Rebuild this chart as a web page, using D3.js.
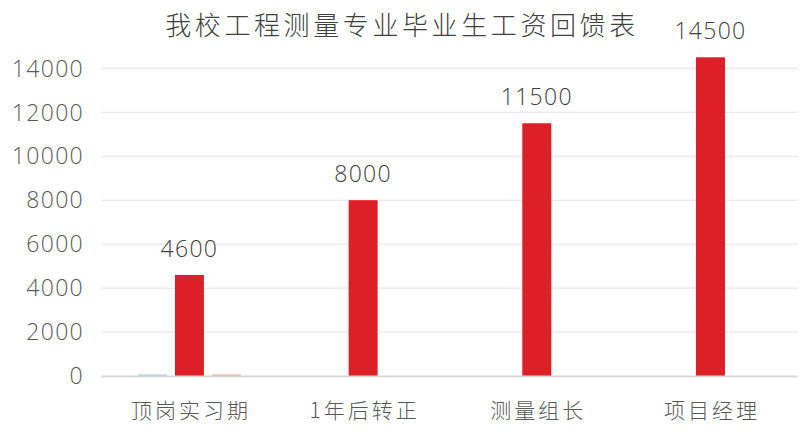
<!DOCTYPE html>
<html><head><meta charset="utf-8">
<script src="https://cdn.jsdelivr.net/npm/d3@7"></script>
<style>
html,body{margin:0;padding:0;background:#fff;}
svg{display:block;}
</style>
</head><body>
<svg id="chart" width="800" height="439"></svg>
<script>
const title = "我校工程测量专业毕业生工资回馈表";
const categories = ["顶岗实习期", "1年后转正", "测量组长", "项目经理"];
const seriesNames = ["系列1", "系列2", "系列3"];
const series1 = [30, 0, 0, 0];
const series2 = [4600, 8000, 11500, 14500];
const series3 = [30, 0, 0, 0];
const yTicks = [0, 2000, 4000, 6000, 8000, 10000, 12000, 14000];
const colors = ["#a9d1d3", "#dd2027", "#f4b183"];

const seriesValues = [series1, series2, series3];
const data = categories.map((c, i) => ({
  cat: c,
  vals: seriesNames.map((s, j) => ({ s, v: seriesValues[j][i], j }))
}));

const svg = d3.select("#chart");
const x0 = d3.scaleBand().domain(categories).range([102.6, 797.3]).padding(0);
const x1 = d3.scaleBand().domain(seriesNames).range([0, x0.bandwidth()])
  .paddingInner(0.216).paddingOuter(0.955);
const y = d3.scaleLinear().domain([0, 14000]).range([376, 68.3]);

// gridlines
svg.append("g").selectAll("line").data(yTicks.filter(t => t !== 0)).join("line")
  .attr("x1", 101.5).attr("x2", 798)
  .attr("y1", d => y(d)).attr("y2", d => y(d))
  .attr("stroke", "#e3e3e3").attr("stroke-width", 1);

// y labels
svg.append("g").selectAll("text").data(yTicks).join("text")
  .attr("x", 84).attr("y", d => y(d))
  .attr("dy", "0.36em")
  .attr("text-anchor", "end")
  .attr("font-family", "'Open Sans', sans-serif")
  .attr("font-weight", 300)
  .attr("font-size", 23)
  .attr("letter-spacing", 1.3)
  .attr("fill", "#595959")
  .text(d => d);

// bars
const groups = svg.append("g").selectAll("g").data(data).join("g")
  .attr("transform", d => `translate(${x0(d.cat)},0)`);
groups.selectAll("rect").data(d => d.vals.filter(v => v.v > 0)).join("rect")
  .attr("x", d => x1(d.s))
  .attr("width", x1.bandwidth())
  .attr("y", d => Math.min(y(d.v), y(0) - 1.5))
  .attr("height", d => Math.max(1.5, y(0) - y(d.v)))
  .attr("fill", d => colors[d.j]);

// baseline
svg.append("line").attr("x1", 101.5).attr("x2", 798)
  .attr("y1", y(0) + 0.5).attr("y2", y(0) + 0.5)
  .attr("stroke", "#d9d9d9").attr("stroke-width", 2);

// value labels
groups.append("text")
  .attr("x", d => x1(seriesNames[1]) + x1.bandwidth() / 2)
  .attr("y", (d, i) => y(series2[i]) - 18)
  .attr("text-anchor", "middle")
  .attr("font-family", "'Open Sans', sans-serif")
  .attr("font-weight", 300)
  .attr("font-size", 23)
  .attr("letter-spacing", 1.3)
  .attr("fill", "#404040")
  .text((d, i) => series2[i]);

// category labels
svg.append("g").selectAll("text").data(categories).join("text")
  .attr("x", d => x0(d) + x0.bandwidth() / 2 + 1.5)
  .attr("y", 418)
  .attr("text-anchor", "middle")
  .attr("font-family", "'Noto Sans CJK SC', sans-serif")
  .attr("font-weight", 300)
  .attr("font-size", 21)
  .attr("letter-spacing", 3)
  .attr("fill", "#595959")
  .text(d => d);

// title
svg.append("text")
  .attr("x", 402).attr("y", 35)
  .attr("text-anchor", "middle")
  .attr("font-family", "'Noto Sans CJK SC', sans-serif")
  .attr("font-weight", 300)
  .attr("font-size", 26)
  .attr("letter-spacing", 3.6)
  .attr("fill", "#404040")
  .text(title);
</script>
</body></html>
